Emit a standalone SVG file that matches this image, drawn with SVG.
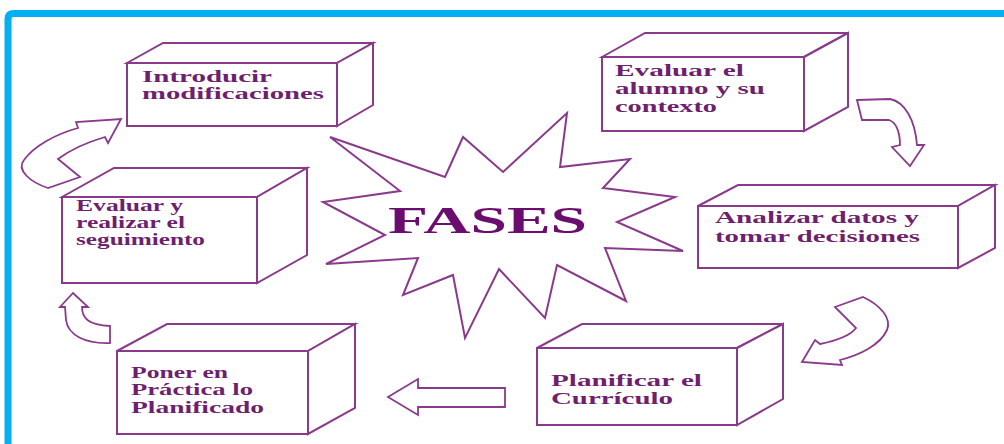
<svg xmlns="http://www.w3.org/2000/svg" width="1004" height="444" viewBox="0 0 1004 444">
<style>
.face{fill:#fff;stroke:#8a3a8a;stroke-width:2;stroke-linejoin:miter}
.lbl{font-family:"Liberation Serif","Times New Roman",serif;font-weight:bold;font-size:17px;fill:#6e1f6e}
.arr{fill:#fff;stroke:#8a3a8a;stroke-width:1.8;stroke-linejoin:miter}
</style>
<rect width="1004" height="444" fill="#fff"/>
<path d="M8,444 L8,19 Q8,13.5 14,13.5 L1004,13.5" fill="none" stroke="#00b0f0" stroke-width="7"/>

<g id="star">
<polygon class="face" points="330,137 445,177 463,137 503,172 567,113 560,167 630,159 603,188 675,197 617,222 683,251 605,248 626,301 557,265 545,318 499,269 465,338 453,275 403,295 418,258 326,264 385,235 323,202 400,191"/>
<text x="388" y="233" font-family="'Liberation Serif','Times New Roman',serif" font-weight="bold" font-size="38" fill="#6a0d6e" textLength="199" lengthAdjust="spacingAndGlyphs">FASES</text>
</g>

<g id="connectors">
<path class="arr" d="M48,188 C30,182 16,170 24,160 C34,146 56,134 78,128 L76,122 L121,119 L108,143 L105,137 C88,142 70,150 58,159 L80,177 Z"/>
<path class="arr" d="M857,100 L890,99 C905,102 915,120 917,145 L924,145 L910,166 L892,147 L900,145 C900,132 896,122 889,120 L862,120 Z"/>
<path class="arr" d="M835,307 L863,297 C880,305 892,318 887,330 C880,345 860,355 840,360 L842,365 L802,362 L815,340 L820,344 C835,341 850,336 856,328 Z"/>
<path class="arr" d="M505,388 L418,388 L418,379 L388,397 L418,415 L418,407 L505,407 Z"/>
<path class="arr" d="M73,293 L88,307 L82,307 C82,318 88,325 110,326 L110,343 C85,344 68,335 66,320 L65,307 L60,307 Z"/>
</g>

<g id="box-introducir">
<polygon class="face" points="127,63 163,43 373,43 337,63"/>
<polygon class="face" points="337,63 373,43 373,105 337,126"/>
<rect class="face" x="127" y="63" width="210" height="63"/>
<text class="lbl" x="142" y="82" textLength="130" lengthAdjust="spacingAndGlyphs">Introducir</text>
<text class="lbl" x="142" y="99" textLength="182" lengthAdjust="spacingAndGlyphs">modificaciones</text>
</g>

<g id="box-evaluar-alumno">
<polygon class="face" points="602,57 645,33 848,33 804,57"/>
<polygon class="face" points="804,57 848,33 848,107 804,131"/>
<rect class="face" x="602" y="57" width="202" height="74"/>
<text class="lbl" x="615" y="76" textLength="129" lengthAdjust="spacingAndGlyphs">Evaluar el</text>
<text class="lbl" x="615" y="94" textLength="150" lengthAdjust="spacingAndGlyphs">alumno y su</text>
<text class="lbl" x="615" y="112" textLength="102" lengthAdjust="spacingAndGlyphs">contexto</text>
</g>

<g id="box-evaluar-seguimiento">
<polygon class="face" points="62,197 114,168 307,168 257,197"/>
<polygon class="face" points="257,197 307,168 307,255 257,283"/>
<rect class="face" x="62" y="197" width="195" height="86"/>
<text class="lbl" x="76" y="211" textLength="107" lengthAdjust="spacingAndGlyphs">Evaluar y</text>
<text class="lbl" x="76" y="228" textLength="109" lengthAdjust="spacingAndGlyphs">realizar el</text>
<text class="lbl" x="76" y="245" textLength="129" lengthAdjust="spacingAndGlyphs">seguimiento</text>
</g>

<g id="box-analizar">
<polygon class="face" points="698,206 738,185 995,185 958,206"/>
<polygon class="face" points="958,206 995,185 995,248 958,268"/>
<rect class="face" x="698" y="206" width="260" height="62"/>
<text class="lbl" x="715" y="223" textLength="204" lengthAdjust="spacingAndGlyphs">Analizar datos y</text>
<text class="lbl" x="715" y="242" textLength="205" lengthAdjust="spacingAndGlyphs">tomar decisiones</text>
</g>

<g id="box-planificar">
<polygon class="face" points="537,348 582,324 783,324 737,348"/>
<polygon class="face" points="737,348 783,324 783,399 737,425"/>
<rect class="face" x="537" y="348" width="200" height="77"/>
<text class="lbl" x="551" y="386" textLength="151" lengthAdjust="spacingAndGlyphs">Planificar el</text>
<text class="lbl" x="551" y="404" textLength="122" lengthAdjust="spacingAndGlyphs">Currículo</text>
</g>

<g id="box-poner">
<polygon class="face" points="117,351 167,324 355,324 308,351"/>
<polygon class="face" points="308,351 355,324 355,408 308,434"/>
<rect class="face" x="117" y="351" width="191" height="83"/>
<text class="lbl" x="131" y="378" textLength="97" lengthAdjust="spacingAndGlyphs">Poner en</text>
<text class="lbl" x="131" y="395" textLength="122" lengthAdjust="spacingAndGlyphs">Práctica lo</text>
<text class="lbl" x="131" y="413" textLength="133" lengthAdjust="spacingAndGlyphs">Planificado</text>
</g>
</svg>
